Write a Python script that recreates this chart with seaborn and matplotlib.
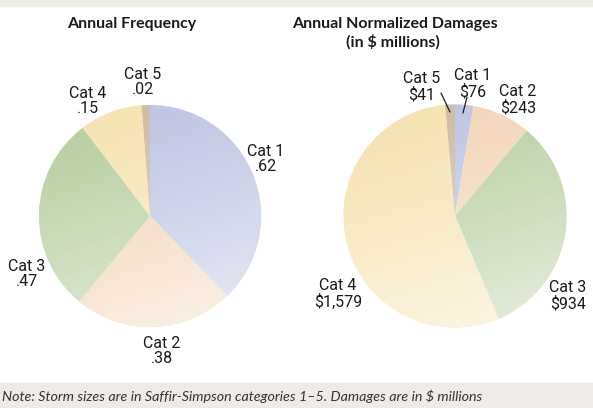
import numpy as np
import matplotlib
matplotlib.use("Agg")
import matplotlib.pyplot as plt
from matplotlib.patches import Circle, Rectangle
import seaborn as sns

W, H = 593, 408

categories = ["Cat 1", "Cat 2", "Cat 3", "Cat 4", "Cat 5"]
frequency = [0.62, 0.38, 0.47, 0.15, 0.02]
freq_labels = [".62", ".38", ".47", ".15", ".02"]
damages = [76, 243, 934, 1579, 41]
damage_labels = ["$76", "$243", "$934", "$1,579", "$41"]

colors = ["#a7b0d9", "#f0c69f", "#9fbe7f", "#f4da97", "#c0a383"]
band = "#efebe6"

sns.set_theme(style="white")
plt.rcParams["font.family"] = ["Roboto", "DejaVu Sans"]
plt.rcParams["hatch.linewidth"] = 0.6

fig = plt.figure(figsize=(W / 100, H / 100), dpi=100)
ax = fig.add_axes([0, 0, 1, 1])
ax.set_xlim(0, W)
ax.set_ylim(0, H)
ax.set_aspect("equal")
ax.axis("off")

# beige bands top and bottom
fig.patches.append(Rectangle((0, 1 - 6 / H), 1, 6 / H, transform=fig.transFigure,
                             color=band, zorder=0))
fig.patches.append(Rectangle((0, 0), 1, 25 / H, transform=fig.transFigure,
                             color=band, zorder=0))


def shaded_pie(values, center, radius):
    wedges, _ = ax.pie(values, colors=colors, startangle=90, counterclock=False,
                       center=center, radius=radius,
                       wedgeprops=dict(linewidth=0))
    # light fade from top-left (darkest) to bottom-right, clipped to the disc
    cx, cy = center
    n = 200
    yy, xx = np.mgrid[0:1:n * 1j, 0:1:n * 1j]
    t = 0.3 * xx + 0.95 * yy
    t = t / t.max()
    img = np.ones((n, n, 4))
    img[..., 3] = 0.7 * t ** 1.3
    disc = Circle(center, radius, transform=ax.transData)
    im = ax.imshow(img, extent=(cx - radius, cx + radius, cy - radius, cy + radius),
                   origin="upper", zorder=3, interpolation="bilinear")
    im.set_clip_path(disc)
    # fine diagonal texture
    ax.add_patch(Circle(center, radius, fill=False, hatch="/" * 30,
                        edgecolor=(1, 1, 1, 0.25), linewidth=0, zorder=4))
    return wedges


shaded_pie(frequency, (150, H - 216), 111)
shaded_pie(damages, (455, H - 216), 111.5)
ax.set_xlim(0, W)
ax.set_ylim(0, H)

lab_kw = dict(ha="center", va="center", fontsize=11.5, linespacing=1.05,
              color="#1a1a1a", zorder=6)
freq_pos = [(266, 159), (162, 351), (27, 274), (88, 101), (143, 82)]
for name, lab, (x, y) in zip(categories, freq_labels, freq_pos):
    ax.text(x, H - y, f"{name}\n{lab}", **lab_kw)

dmg_pos = [(473, 84), (518, 100), (568, 296), (338, 294), (422, 87)]
for name, lab, (x, y) in zip(categories, damage_labels, dmg_pos):
    ax.text(x, H - y, f"{name}\n{lab}", **lab_kw)

# leader lines for the two thin slices
ax.plot([441, 450], [H - 93, H - 112], color="#1a1a1a", lw=0.9, zorder=6)
ax.plot([467, 463], [H - 97, H - 113], color="#1a1a1a", lw=0.9, zorder=6)

title_kw = dict(ha="center", va="center", fontsize=11.5, fontweight="bold",
                family=["Lato", "DejaVu Sans"], color="#1a1a1a")
fig.text(132 / W, 1 - 24 / H, "Annual Frequency", **title_kw)
fig.text(395 / W, 1 - 24 / H, "Annual Normalized Damages", **title_kw)
fig.text(393 / W, 1 - 42 / H, "(in $ millions)", **title_kw)

fig.text(2 / W, 1 - 396 / H,
         "Note: Storm sizes are in Saffir-Simpson categories 1\u20135. Damages are in $ millions",
         ha="left", va="center", fontsize=10.3, style="italic",
         family=["Lato", "DejaVu Sans"], color="#333333")

fig.savefig("out.png", dpi=100)
